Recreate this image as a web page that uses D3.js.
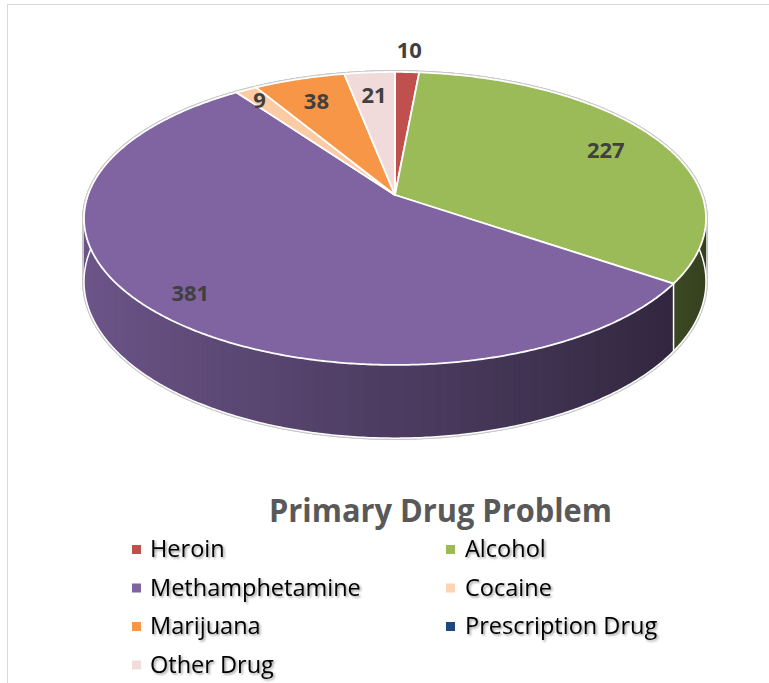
<!DOCTYPE html>
<html>
<head>
<meta charset="utf-8">
<script src="https://cdn.jsdelivr.net/npm/d3@7/dist/d3.min.js"></script>
<style>
  html, body { margin: 0; padding: 0; background: #fff; }
  svg { display: block; }
</style>
</head>
<body>
<script>
// ---- data ----
const categories = ["Heroin", "Alcohol", "Methamphetamine", "Cocaine", "Marijuana", "Prescription Drug", "Other Drug"];
const values = [10, 227, 381, 9, 38, 0, 21];
const colors = ["#c0504d", "#9bbb59", "#8064a2", "#fbcca4", "#f79646", "#1f497d", "#f0dada"];
const legendColors = ["#c0504d", "#9bbb59", "#8064a2", "#fcd5b5", "#f79646", "#1f497d", "#f2dcdb"];
const title = "Primary Drug Problem";

const W = 769, H = 683;
const svg = d3.select("body").append("svg").attr("width", W).attr("height", H);

const defs = svg.append("defs");
const f = defs.append("filter").attr("id", "shadow").attr("x", "-10%").attr("y", "-30%").attr("width", "130%").attr("height", "170%");
f.append("feDropShadow").attr("dx", 1.5).attr("dy", 1.5).attr("stdDeviation", 1).attr("flood-color", "#000").attr("flood-opacity", 0.4);

// chart border
svg.append("rect").attr("x", 7.5).attr("y", 4.5).attr("width", W + 20).attr("height", H + 20)
  .attr("fill", "none").attr("stroke", "#d9d9d9").attr("stroke-width", 1);

// ---- 3D projection ----
const cx = 395, cy = 195, R = 307, sinE = 0.465, cosE = Math.sqrt(1 - sinE * sinE), Dcam = 1699, depthH = 61.5;
function proj(theta, r, down) {
  const X = r * Math.sin(theta), Z = -r * Math.cos(theta);
  const p = Dcam / (Dcam - Z * cosE);
  return [cx + X * p, cy + Z * sinE * p + (down || 0) * p];
}
function arcPts(a0, a1, r, down) {
  const n = Math.max(2, Math.ceil((a1 - a0) / (Math.PI / 360)));
  return d3.range(n + 1).map(i => proj(a0 + (a1 - a0) * i / n, r, down));
}
const line = d3.line();
function shade(color, theta) {
  const k = Math.max(0.25, Math.min(0.95, 0.6 - 0.26 * Math.sin(theta)));
  const c = d3.rgb(color);
  return d3.rgb(c.r * k, c.g * k, c.b * k).formatHex();
}

const pie = d3.pie().sort(null).value(d => d.value).startAngle(0).endAngle(2 * Math.PI);
const data = categories.map((c, i) => ({ name: c, value: values[i], color: colors[i] }));
const arcs = pie(data);
const visible = arcs.filter(a => a.endAngle > a.startAngle);

// side strips (slightly overlapping within a slice to avoid seams)
const step = Math.PI / 180;
const strips = [];
visible.forEach(a => {
  const n = Math.max(1, Math.ceil((a.endAngle - a.startAngle) / step));
  for (let i = 0; i < n; i++) {
    const t0 = a.startAngle + (a.endAngle - a.startAngle) * i / n;
    const t1 = a.startAngle + (a.endAngle - a.startAngle) * (i + 1) / n;
    const tm = (t0 + t1) / 2;
    strips.push({
      t0: Math.max(a.startAngle, t0 - step * 0.6),
      t1: Math.min(a.endAngle, t1 + step * 0.6),
      tm, z: -Math.cos(tm), fill: shade(a.data.color, tm)
    });
  }
});
strips.sort((a, b) => a.z - b.z);
const stripPath = s => line([proj(s.t0, R, 0), proj(s.t1, R, 0), proj(s.t1, R, depthH), proj(s.t0, R, depthH)]) + "Z";

// halo
const halo = svg.append("g");
halo.selectAll("path").data(strips).join("path").attr("d", stripPath)
  .attr("fill", "#c8c8c8").attr("stroke", "#c8c8c8").attr("stroke-width", 3.5).attr("stroke-linejoin", "round");
halo.append("path").attr("d", line(arcPts(0, 2 * Math.PI, R, 0)) + "Z")
  .attr("fill", "#c8c8c8").attr("stroke", "#c8c8c8").attr("stroke-width", 3.5);

// sides
svg.append("g").selectAll("path").data(strips).join("path").attr("d", stripPath)
  .attr("fill", d => d.fill).attr("stroke", "none");

// bottom white edge
svg.append("path").attr("d", line(arcPts(0, 2 * Math.PI, R, depthH)))
  .attr("fill", "none").attr("stroke", "#fff").attr("stroke-width", 1.5);

// side slice boundaries
visible.filter(a => Math.cos(a.startAngle) < -0.05).forEach(a => {
  svg.append("path").attr("d", line([proj(a.startAngle, R, 0), proj(a.startAngle, R, depthH)]))
    .attr("stroke", "#fff").attr("stroke-width", 1.5);
});

// top faces
svg.append("g").selectAll("path").data(visible).join("path")
  .attr("d", a => line([[cx, cy]].concat(arcPts(a.startAngle, a.endAngle, R, 0))) + "Z")
  .attr("fill", a => a.data.color).attr("stroke", "#fff").attr("stroke-width", 1.8).attr("stroke-linejoin", "round");

// data labels
const labelFrac = { "Heroin": 1.22, "Cocaine": 0.9, "Methamphetamine": 0.86 };
const lp = a => proj((a.startAngle + a.endAngle) / 2, R * (labelFrac[a.data.name] || 0.8), 0);
svg.append("g").selectAll("text").data(visible).join("text")
  .attr("x", a => lp(a)[0]).attr("y", a => lp(a)[1])
  .attr("text-anchor", "middle").attr("dominant-baseline", "central")
  .attr("font-family", "'Open Sans', 'DejaVu Sans', sans-serif").attr("font-weight", "bold")
  .attr("font-size", 22).attr("fill", "#404040")
  .text(a => a.data.value);

// title
svg.append("text").attr("x", 269).attr("y", 522)
  .attr("font-family", "'Open Sans', sans-serif").attr("font-weight", "bold").attr("font-size", 33)
  .attr("fill", "#595959").attr("textLength", 343).attr("lengthAdjust", "spacingAndGlyphs")
  .text(title);

// legend
const legX = [132, 446], txtX = [150, 465], rowY = [557, 595.5, 634, 672.5];
const leg = svg.append("g");
const items = leg.selectAll("g").data(categories).join("g")
  .attr("transform", (d, i) => `translate(0,${rowY[Math.floor(i / 2)]})`);
items.append("rect").attr("x", (d, i) => legX[i % 2]).attr("y", -12).attr("width", 9).attr("height", 9)
  .attr("fill", (d, i) => legendColors[i]);
const texts = items.append("text").attr("x", (d, i) => txtX[i % 2]).attr("y", 0)
  .attr("font-family", "'Open Sans', sans-serif").attr("font-size", 21).attr("fill", "#000")
  .attr("filter", "url(#shadow)").text(d => d);
// fit legend font size so "Methamphetamine" matches reference width
const methNode = texts.filter(d => d === "Methamphetamine").node();
const w0 = methNode.getComputedTextLength();
texts.attr("font-size", 21 * 211 / w0);
</script>
</body>
</html>
